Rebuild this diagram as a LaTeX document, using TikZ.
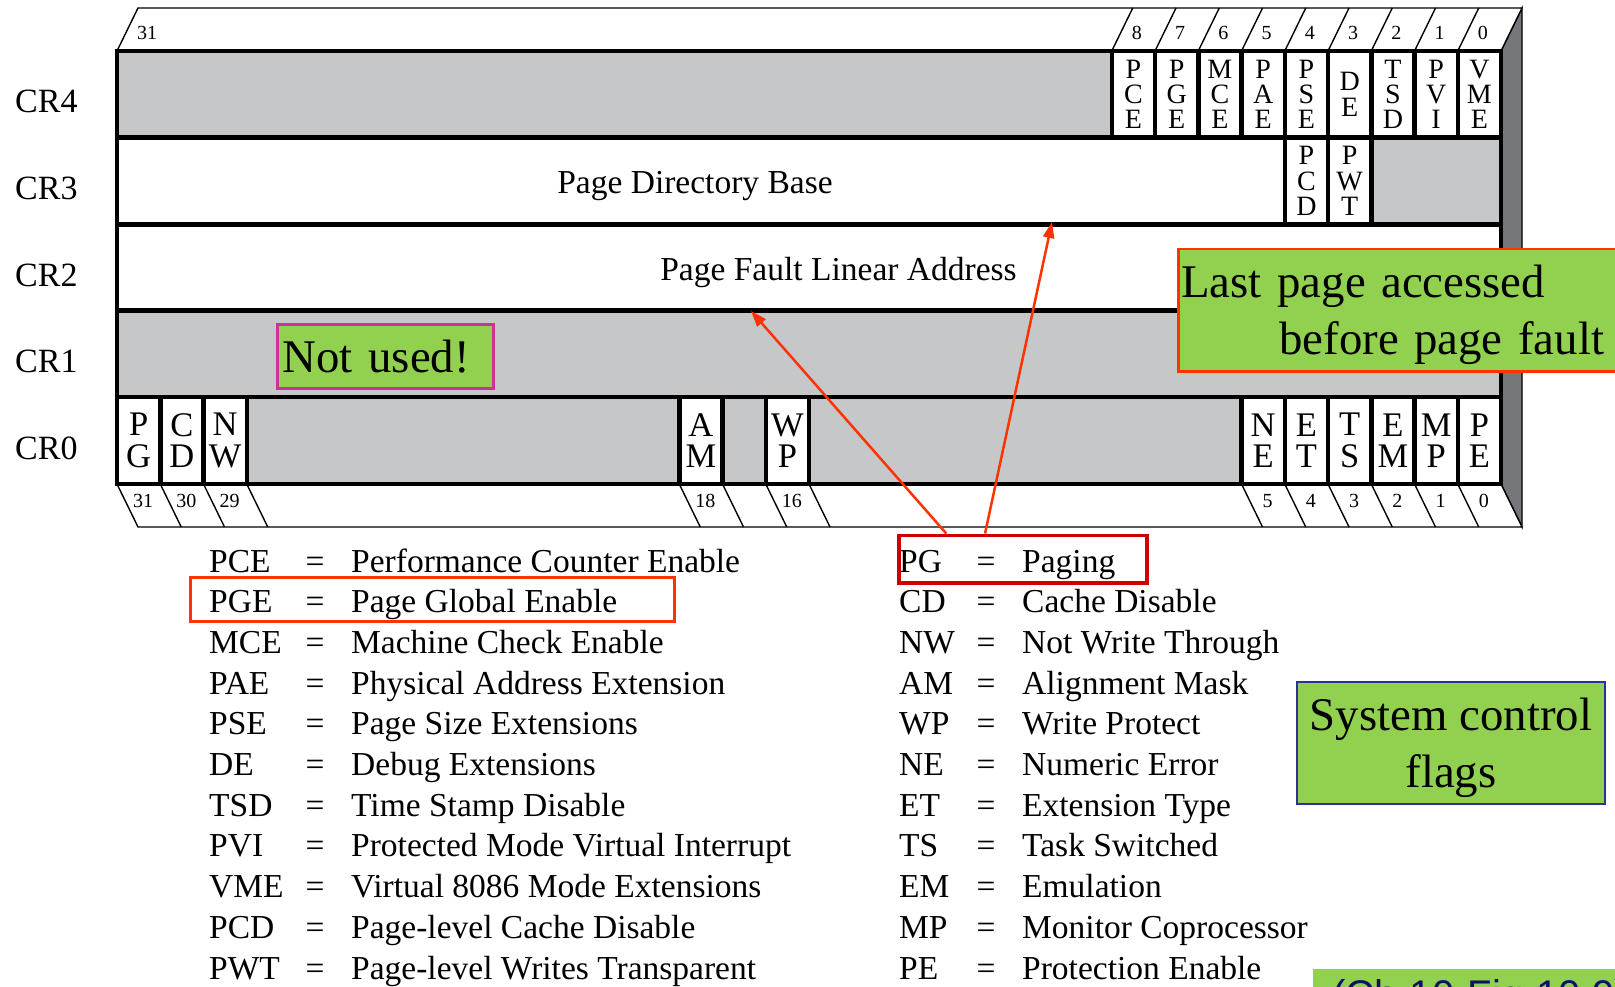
\documentclass[tikz,border=0pt]{standalone}
\usepackage{fontspec}
\setmainfont{Liberation Serif}
\newfontfamily\citefont{Liberation Sans}
\usetikzlibrary{arrows.meta,calc}

\definecolor{regGray}{HTML}{C6C7C9}
\definecolor{sideGray}{HTML}{76777B}
\definecolor{noteGreen}{HTML}{92D050}
\definecolor{hiRed}{HTML}{FF3300}
\definecolor{pgRed}{HTML}{CC0000}
\definecolor{noteMagenta}{HTML}{CC3399}
\definecolor{noteNavy}{HTML}{2E3192}
\definecolor{citeBlue}{HTML}{10106A}

% one bit cell of a register: name, bit index, top y, bottom y, letters, style
\newcommand\regcell[6]{%
  \node[#6, minimum height={#4-#3}] (#1) at ({1501-43.25*(#2+1)+21.625},{(#3+#4)/2}) {#5};}

\begin{document}
\begin{tikzpicture}[x=1pt,y=-1pt,
  edgeline/.style={draw=black,line width=1.4pt,line join=miter},
  regrow/.style={draw=black,line width=4.5pt,line join=miter},
  bitbox/.style={draw=black,fill=white,line width=4.5pt,inner sep=0pt,outer sep=0pt,
                 minimum width=43.25pt,align=center},
  smallbits/.style={bitbox,font=\fontsize{28}{25.3}\selectfont},
  bigbits/.style={bitbox,font=\fontsize{34.5}{31.5}\selectfont},
  bitnum/.style={font=\fontsize{20}{22}\selectfont,inner sep=0pt},
  crlabel/.style={font=\fontsize{34}{40}\selectfont,anchor=base west,inner sep=0pt},
  fieldname/.style={font=\fontsize{33.5}{40}\selectfont,anchor=base,inner sep=0pt},
  legend/.style={font=\fontsize{33.5}{40}\selectfont,anchor=base west,inner sep=0pt},
  legendeq/.style={font=\fontsize{33.5}{40}\selectfont,anchor=base,inner sep=0pt},
  notebox/.style={fill=noteGreen,line width=2.5pt,inner ysep=0pt,
                  font=\fontsize{46.8}{57}\selectfont},
  hiarrow/.style={draw=hiRed,line width=2.5pt,-{Triangle[length=16pt,width=11pt]}},
]
\useasboundingbox (0,0) rectangle (1615,987);
\clip (0,0) rectangle (1615,987);
\fill[white] (0,0) rectangle (1615,987);

% ---- 3-D faces of the register block ----
\filldraw[fill=sideGray, edgeline] (1501,51) -- (1522,8) -- (1522,527) -- (1501,484) -- cycle;
\filldraw[fill=white, edgeline] (117,51) -- (138,8) -- (1522,8) -- (1501,51) -- cycle;
\filldraw[fill=white, edgeline] (117,484) -- (138,527) -- (1522,527) -- (1501,484) -- cycle;

% bit numbers on the top face
\node[bitnum] (top31) at (147,33) {31};
\foreach \j in {0,...,8} {
  \draw[edgeline] ({1501-43.25*(\j+1)},51) -- ++(21,-43);
  \node[bitnum] (top\j) at ({1501-43.25*(\j+1)+25},33) {\j};
}
% bit numbers on the bottom face
\foreach \j in {30,29,28,18,17,16,15,5,4,3,2,1,0}
  \draw[edgeline] ({1501-43.25*(\j+1)},484) -- ++(21,43);
\foreach \j in {31,30,29,18,16,5,4,3,2,1,0}
  \node[bitnum] (bot\j) at ({1501-43.25*(\j+1)+26},501) {\j};

% ---- register rows ----
\draw[regrow, fill=regGray] (117,51) rectangle (1501,137.5);      % CR4
\draw[regrow, fill=white]   (117,137.5) rectangle (1501,224.5);   % CR3
\draw[regrow, fill=regGray] ({1501-43.25*3},137.5) rectangle (1501,224.5);
\draw[regrow, fill=white]   (117,224.5) rectangle (1501,310.5);   % CR2
\draw[regrow, fill=regGray] (117,310.5) rectangle (1501,397);     % CR1
\draw[regrow, fill=regGray] (117,397) rectangle (1501,484);       % CR0

% CR4 flags
\regcell{pce}{8}{51}{137.5}{P\\C\\E}{smallbits}
\regcell{pge}{7}{51}{137.5}{P\\G\\E}{smallbits}
\regcell{mce}{6}{51}{137.5}{M\\C\\E}{smallbits}
\regcell{pae}{5}{51}{137.5}{P\\A\\E}{smallbits}
\regcell{pse}{4}{51}{137.5}{P\\S\\E}{smallbits}
\regcell{de}{3}{51}{137.5}{D\\E}{smallbits}
\regcell{tsd}{2}{51}{137.5}{T\\S\\D}{smallbits}
\regcell{pvi}{1}{51}{137.5}{P\\V\\I}{smallbits}
\regcell{vme}{0}{51}{137.5}{V\\M\\E}{smallbits}
% CR3 flags
\regcell{pcd}{4}{137.5}{224.5}{P\\C\\D}{smallbits}
\regcell{pwt}{3}{137.5}{224.5}{P\\W\\T}{smallbits}
% CR0 flags
\regcell{pg}{31}{397}{484}{P\\G}{bigbits}
\regcell{cd}{30}{397}{484}{C\\D}{bigbits}
\regcell{nw}{29}{397}{484}{N\\W}{bigbits}
\regcell{am}{18}{397}{484}{A\\M}{bigbits}
\regcell{wp}{16}{397}{484}{W\\P}{bigbits}
\regcell{ne}{5}{397}{484}{N\\E}{bigbits}
\regcell{et}{4}{397}{484}{E\\T}{bigbits}
\regcell{ts}{3}{397}{484}{T\\S}{bigbits}
\regcell{em}{2}{397}{484}{E\\M}{bigbits}
\regcell{mp}{1}{397}{484}{M\\P}{bigbits}
\regcell{pe}{0}{397}{484}{P\\E}{bigbits}

% wide fields
\node[fieldname] (pdbase) at (695,194) {Page Directory Base};
\node[fieldname] (pflin) at (838.5,280) {Page Fault Linear Address};

% register names
\node[crlabel] (cr4) at (15,113) {CR4};
\node[crlabel] (cr3) at (15,199.5) {CR3};
\node[crlabel] (cr2) at (15,286.5) {CR2};
\node[crlabel] (cr1) at (15,372.5) {CR1};
\node[crlabel] (cr0) at (15,459) {CR0};

% ---- legend ----
\foreach \ab/\tx [count=\i from 0] in {
    PCE/Performance Counter Enable, PGE/Page Global Enable,
    MCE/Machine Check Enable, PAE/Physical Address Extension,
    PSE/Page Size Extensions, DE/Debug Extensions,
    TSD/Time Stamp Disable, PVI/Protected Mode Virtual Interrupt,
    VME/Virtual 8086 Mode Extensions, PCD/Page-level Cache Disable,
    PWT/Page-level Writes Transparent} {
  \node[legend]   (la\i) at (209,{572+40.7*\i}) {\ab};
  \node[legendeq] (le\i) at (315,{572+40.7*\i}) {=};
  \node[legend]   (ld\i) at (351,{572+40.7*\i}) {\tx};
}
\foreach \ab/\tx [count=\i from 0] in {
    PG/Paging, CD/Cache Disable, NW/Not Write Through, AM/Alignment Mask,
    WP/Write Protect, NE/Numeric Error, ET/Extension Type, TS/Task Switched,
    EM/Emulation, MP/Monitor Coprocessor, PE/Protection Enable} {
  \node[legend]   (ra\i) at (899,{572+40.7*\i}) {\ab};
  \node[legendeq] (re\i) at (986,{572+40.7*\i}) {=};
  \node[legend]   (rd\i) at (1022,{572+40.7*\i}) {\tx};
}

% highlight frames
\node[draw=hiRed, line width=2.5pt, minimum width=484, minimum height=44,
      inner sep=0pt, anchor=north west] (pgebox) at (189,576) {};
\node[draw=pgRed, line width=3.5pt, minimum width=248, minimum height=47.5,
      inner sep=0pt, anchor=north west] (pgbox) at (897,533.5) {};

% PG points at the paging registers
\coordinate (faultTip) at (751,311);
\coordinate (dirTip) at (1052,222);
\draw[hiarrow] ($(pgbox.north west)!0.196!(pgbox.north east)$) -- (faultTip);
\draw[hiarrow] ($(pgbox.north west)!0.35!(pgbox.north east)$) -- (dirTip);

% ---- notes ----
\node[notebox, draw=noteMagenta, anchor=north west, minimum height=64,
      text width=205, inner xsep=5.5, align=left] (notused) at (276,323) {Not used!};
\node[notebox, draw=hiRed, anchor=north west, minimum height=122,
      text width=440, inner xsep=3, align=left] (lastpage) at (1177,248)
      {\rule{0pt}{42pt}Last page accessed\\\hspace*{98pt}before page fault};
\node[notebox, draw=noteNavy, minimum width=308, minimum height=122,
      align=center] (sysflags) at (1451,743) {\rule{0pt}{42pt}System control\\flags};
\node[fill=noteGreen, anchor=north west, minimum height=57.6, text width=320,
      inner xsep=19, inner ysep=0pt, align=left, text=citeBlue,
      font=\citefont\fontsize{40}{46}\selectfont] (cite) at (1313,969)
      {(Ch 10 Fig 10.9)};
\end{tikzpicture}
\end{document}
